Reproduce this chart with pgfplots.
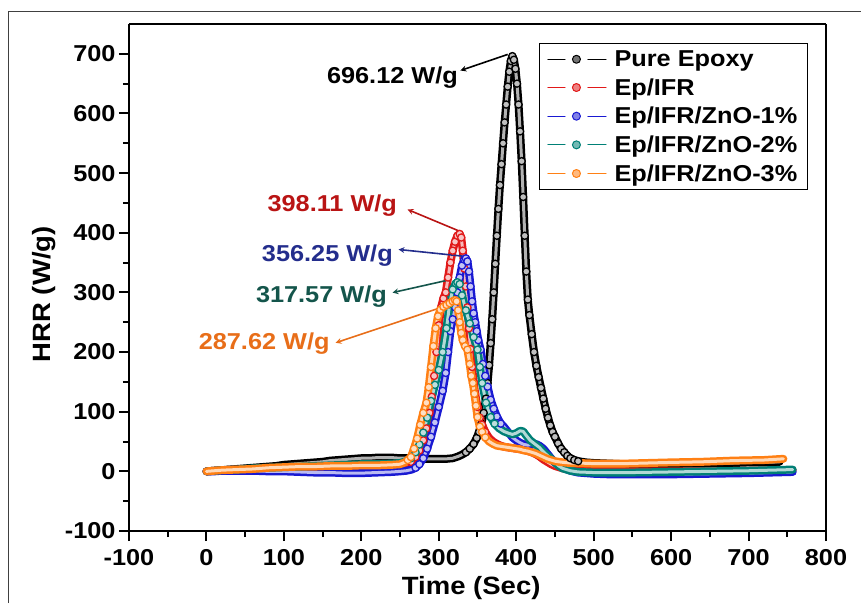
\documentclass[border=0pt]{standalone}
\usepackage{fontspec}
\setmainfont{Liberation Sans}[FakeStretch=1.1]
\usepackage{pgfplots}
\usepackage{pgfplotstable}
\pgfplotsset{compat=1.18}
\definecolor{cRed}{RGB}{225,25,25}
\definecolor{cBlue}{RGB}{25,25,210}
\definecolor{cTeal}{RGB}{0,128,118}
\definecolor{cOrange}{RGB}{255,128,20}
\definecolor{tRed}{RGB}{185,20,20}
\definecolor{tBlue}{RGB}{35,45,140}
\definecolor{tTeal}{RGB}{20,85,75}
\definecolor{tOrange}{RGB}{232,110,25}
\pgfplotsset{
  tube/.style={color=#1, line width=8pt, line join=round, line cap=round, mark=none,
    mark options={draw=#1, fill=#1!55!white, line width=1pt, solid}},
  core/.style={color=#1!30!white, line width=3pt, line join=round, line cap=round, mark=none, forget plot},
  beads/.style={only marks, mark=*, mark size=3.6pt, forget plot,
    mark options={draw=#1, fill=#1!25!white, line width=1.3pt, solid}},
}
\pgfplotstableread{
x y
0 0
10 1
20 2
30 3
40 4
50 5
60 6
70 7
80 8
90 9
100 11
110 12
120 13
130 14
140 15
150 16
160 18
170 19
180 20
190 21
200 22
210 22
220 23
230 23
240 23
250 22
260 22
270 22
280 21
290 21
300 21
310 21
318 22
325 25
330 28
335 32
340 38
345 46
349 56
352 66
355 80
358 98
361 122
363 148
365 178
367 215
369 255
371 300
373 348
375 395
377 440
379 480
381 515
383 550
385 585
387 615
389 645
391 670
393 688
395 696
397 690
399 675
401 650
403 615
405 570
407 520
409 460
411 395
413 335
415 288
417 262
420 230
423 200
426 177
429 158
432 140
435 122
438 105
441 90
444 77
447 66
450 58
454 47
458 38
462 32
466 26
470 22
475 19
480 17
490 15
500 14
520 13
540 12
560 12
580 12
600 12
620 13
640 13
660 14
680 14
700 15
720 15
740 16
}\tBlack
\pgfplotstableread{
x y
0 0
10 1
20 2
40 3
60 4
80 5
100 6
120 6
140 7
160 7
180 8
200 8
220 8
240 9
250 10
258 12
264 16
270 24
275 35
280 52
284 72
288 98
291 125
294 160
297 200
300 245
303 275
306 290
309 300
312 325
315 350
318 370
321 385
324 395
327 398
329 392
331 370
333 340
335 310
337 275
339 240
341 205
343 175
345 150
347 130
350 108
353 90
356 78
360 66
365 56
370 50
375 46
380 43
385 41
390 40
395 39
400 38
405 37
410 36
415 34
420 32
425 29
430 25
435 20
440 16
445 12
450 9
460 5
470 3
480 2
500 1
550 0
600 0
650 0
700 1
757 2
}\tRed
\pgfplotstableread{
x y
0 0
10 0
20 1
40 1
60 1
80 0
100 0
120 -1
140 -2
160 -2
180 -3
200 -3
220 -2
240 -1
250 0
258 1
265 3
270 6
275 12
280 22
285 38
290 58
295 82
300 108
305 135
309 165
312 200
315 235
318 255
321 275
324 300
327 325
330 345
333 355
335 357
337 352
339 335
341 310
343 285
345 265
347 250
349 235
351 220
354 204
357 180
360 160
363 142
367 120
371 105
375 92
380 80
384 75
390 65
395 57
400 52
405 48
410 45
415 44
420 45
425 46
430 43
435 38
440 30
445 22
450 15
455 10
460 6
470 1
480 -2
500 -4
520 -5
560 -5
600 -5
650 -4
700 -3
757 -1
}\tBlue
\pgfplotstableread{
x y
0 0
10 1
20 2
40 3
60 5
80 6
100 7
120 8
140 9
160 10
180 11
200 12
220 12
240 13
250 14
258 17
264 22
270 32
275 45
280 65
285 90
290 118
295 145
300 170
305 200
310 240
314 280
318 305
322 315
324 317
327 314
330 295
335 270
340 248
345 225
350 204
353 175
356 148
361 115
367 91
372 80
378 72
384 67
390 64
395 62
400 64
405 68
409 67
413 60
418 52
425 45
430 40
435 33
440 27
445 21
450 15
455 9
460 5
470 1
480 -1
500 -2
550 -2
600 -1
650 0
700 1
757 3
}\tTeal
\pgfplotstableread{
x y
0 0
10 1
20 2
40 3
60 4
80 6
100 7
120 8
140 8
160 9
180 9
200 10
220 10
240 11
250 12
256 15
260 19
264 24
268 38
272 55
276 78
280 98
284 115
287 141
290 175
293 210
296 240
299 260
302 271
306 276
310 279
314 282
318 285
321 287
323 285
325 270
327 250
329 232
331 220
334 210
337 204
340 180
342 160
344 148
346 130
348 110
350 91
353 75
356 66
360 57
365 50
370 46
375 43
380 42
385 41
390 40
395 39
400 38
405 37
410 35
415 34
420 32
425 30
430 27
435 24
440 21
445 19
450 17
455 16
461 15
470 14
480 14
500 13
540 13
570 14
600 15
640 16
680 18
720 19
745 21
}\tOrange
\begin{document}
\begin{tikzpicture}
\begin{axis}[
  scale only axis, width=697pt, height=507pt,
  xmin=-100, xmax=800, ymin=-100, ymax=750,
  xtick={-100,0,...,800}, ytick={-100,0,...,700},
  minor x tick num=1, minor y tick num=1,
  tick align=outside, xtick pos=bottom, ytick pos=left,
  major tick length=10pt, minor tick length=6pt,
  separate axis lines,
  axis line style={line width=2pt},
  every tick/.style={black, line width=2pt},
  ticklabel style={font=\bfseries\fontsize{23}{23}\selectfont},
  xticklabel style={yshift=-5pt},
  /pgf/number format/assume math mode=true,
  xlabel={Time (Sec)}, ylabel={HRR (W/g)},
  label style={font=\bfseries\fontsize{25}{25}\selectfont},
  xlabel style={at={(axis description cs:0.491,-0.126)}, anchor=base},
  ylabel style={at={(axis description cs:-0.113,0.467)}, anchor=base},
  legend cell align=left,
  legend style={at={(axis description cs:0.974,0.9625)}, anchor=north east,
    draw=black, line width=1.2pt, font=\bfseries\fontsize{23}{25}\selectfont,
    row sep=6.5pt, inner xsep=8pt, inner ysep=5pt,
    /tikz/every odd column/.append style={column sep=6pt}},
  legend image code/.code={
    \draw[#1, line width=1.2pt, mark=none] (0pt,0pt) -- (17pt,0pt);
    \draw[#1, line width=1.2pt, mark=none] (40pt,0pt) -- (58pt,0pt);
    \draw[#1, mark=*, mark size=4pt] plot coordinates {(28.5pt,0pt)};
  },
]
\addplot[tube=black] table {\tBlack};
\addlegendentry{Pure Epoxy}
\addplot[core=black] table {\tBlack};
\addplot[beads=black, restrict x to domain=335:480] table {\tBlack};
\addplot[tube=cRed] table {\tRed};
\addlegendentry{Ep/IFR}
\addplot[core=cRed] table {\tRed};
\addplot[beads=cRed, restrict x to domain=262:360] table {\tRed};
\addplot[tube=cBlue] table {\tBlue};
\addlegendentry{Ep/IFR/ZnO-1\%}
\addplot[core=cBlue] table {\tBlue};
\addplot[beads=cBlue, restrict x to domain=268:380] table {\tBlue};
\addplot[tube=cTeal] table {\tTeal};
\addlegendentry{Ep/IFR/ZnO-2\%}
\addplot[core=cTeal] table {\tTeal};
\addplot[beads=cTeal, restrict x to domain=260:375] table {\tTeal};
\addplot[tube=cOrange] table {\tOrange};
\addlegendentry{Ep/IFR/ZnO-3\%}
\addplot[core=cOrange] table {\tOrange};
\addplot[beads=cOrange, restrict x to domain=258:360] table {\tOrange};
% annotations
\begin{scope}[font=\bfseries\fontsize{23}{23}\selectfont, line width=1.6pt]
\draw[-stealth, black] (axis cs:389,699) -- (axis cs:328,672);
\node[anchor=base east, inner sep=0pt, text=black] at (axis cs:325.6,650) {696.12 W/g};
\draw[-stealth, tRed] (axis cs:328,402) -- (axis cs:259.7,439);
\node[anchor=base east, inner sep=0pt, text=tRed] at (axis cs:247,436) {398.11 W/g};
\draw[-stealth, tBlue] (axis cs:337,360) -- (axis cs:248,372);
\node[anchor=base east, inner sep=0pt, text=tBlue] at (axis cs:241.6,352) {356.25 W/g};
\draw[-stealth, tTeal] (axis cs:315,321.5) -- (axis cs:240.3,299.7);
\node[anchor=base east, inner sep=0pt, text=tTeal] at (axis cs:233.9,283) {317.57 W/g};
\draw[-stealth, tOrange] (axis cs:325.6,284.5) -- (axis cs:166.7,215.5);
\node[anchor=base east, inner sep=0pt, text=tOrange] at (axis cs:160,204) {287.62 W/g};
\end{scope}
\end{axis}
\draw[black!75, line width=1pt] ([shift={(-120pt,-72pt)}]current axis.south west) -- ([shift={(-120pt,519pt)}]current axis.south west) -- ([shift={(732pt,519pt)}]current axis.south west);
\pgfresetboundingbox
\path[use as bounding box] ([shift={(-129pt,-72pt)}]current axis.south west) rectangle ([shift={(732pt,531pt)}]current axis.south west);
\end{tikzpicture}
\end{document}
